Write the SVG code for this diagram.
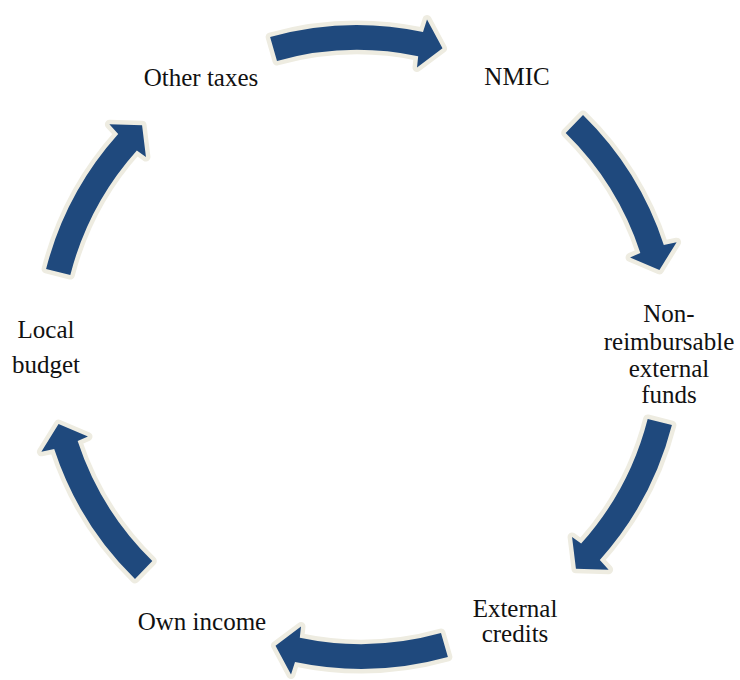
<svg xmlns="http://www.w3.org/2000/svg" width="740" height="680" viewBox="0 0 740 680">
<style>
.arrow{fill:#1F497D;stroke:#EEECE1;stroke-width:9;stroke-linejoin:round;paint-order:stroke}
.lbl{font-family:"Liberation Serif","Times New Roman",serif;font-size:25px;fill:#111;text-anchor:middle}
</style>
<defs>
<path id="arc" d="M 270.1 37.0 A 322.5 322.5 0 0 1 423.0 32.0 L 427.0 19.5 L 442.5 48.3 L 417.0 67.5 L 418.2 56.3 A 297.5 297.5 0 0 0 277.0 61.0 Z"/>
</defs>
<rect width="740" height="680" fill="#fff"/>
<g id="connectors">
<use href="#arc" class="arrow"/>
<use href="#arc" class="arrow" transform="rotate(60 359 347)"/>
<use href="#arc" class="arrow" transform="rotate(120 359 347)"/>
<use href="#arc" class="arrow" transform="rotate(180 359 347)"/>
<use href="#arc" class="arrow" transform="rotate(240 359 347)"/>
<use href="#arc" class="arrow" transform="rotate(300 359 347)"/>
</g>
<g id="nmic"><text class="lbl" x="517" y="85">NMIC</text></g>
<g id="nonreimb"><text class="lbl" x="669" y="322">Non-</text><text class="lbl" x="669" y="350">reimbursable</text><text class="lbl" x="669" y="377">external</text><text class="lbl" x="669" y="403">funds</text></g>
<g id="extcredits"><text class="lbl" x="515" y="617">External</text><text class="lbl" x="515" y="642">credits</text></g>
<g id="ownincome"><text class="lbl" x="202" y="630">Own income</text></g>
<g id="localbudget"><text class="lbl" x="46" y="338">Local</text><text class="lbl" x="46" y="373">budget</text></g>
<g id="othertaxes"><text class="lbl" x="201" y="86">Other taxes</text></g>
</svg>
